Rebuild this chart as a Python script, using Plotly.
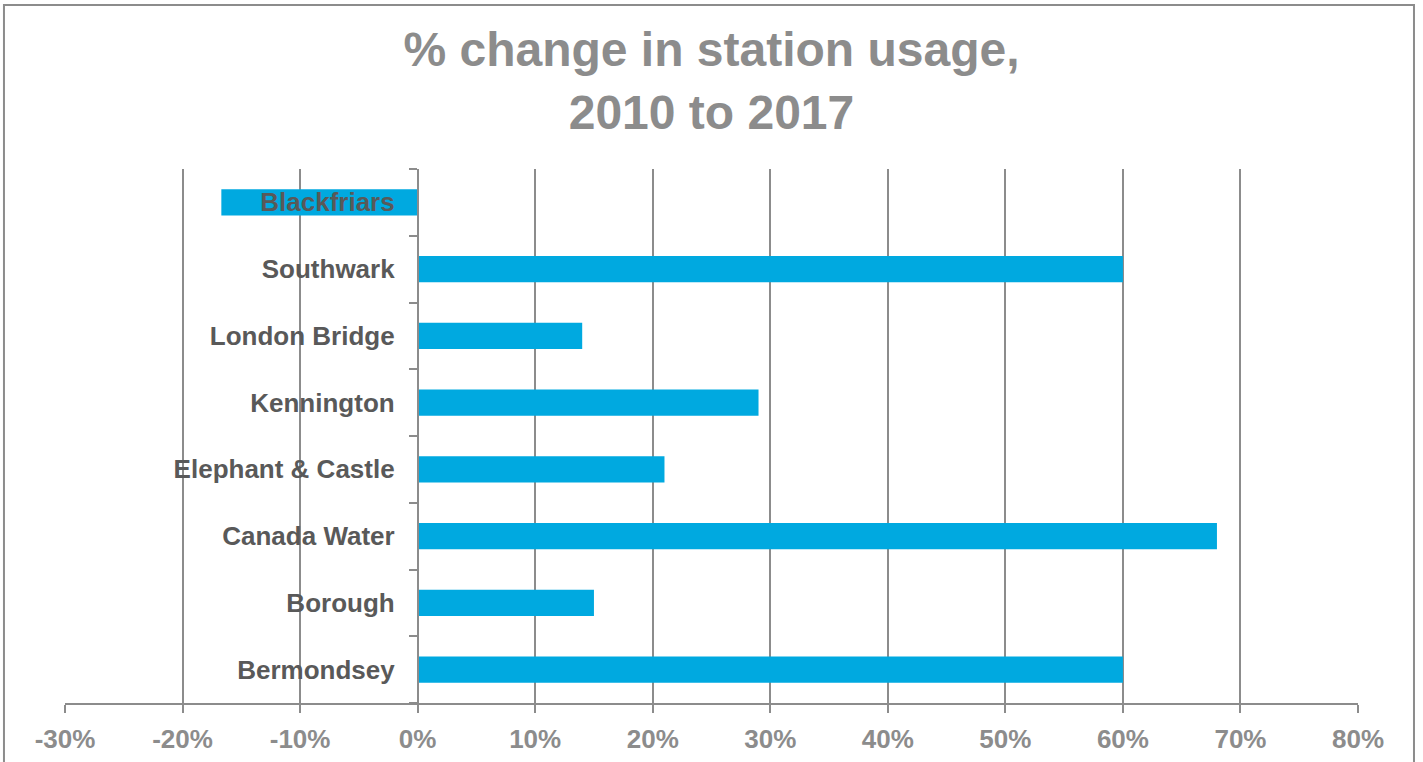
import plotly.graph_objects as go

# stations, listed bottom to top as drawn
stations = ["Bermondsey", "Borough", "Canada Water", "Elephant & Castle",
            "Kennington", "London Bridge", "Southwark", "Blackfriars"]
pct_change = [60, 15, 68, 21, 29, 14, 60, -16.7]

tick_vals = [-30, -20, -10, 0, 10, 20, 30, 40, 50, 60, 70, 80]
tick_labels = ["-30%", "-20%", "-10%", "0%", "10%", "20%", "30%",
               "40%", "50%", "60%", "70%", "80%"]

GREY = "#8c8c8c"
FONT = "Liberation Sans, Arial, sans-serif"

fig = go.Figure(go.Bar(
    x=pct_change,
    y=stations,
    orientation="h",
    marker=dict(color="#00a9e0", line=dict(width=0)),
    hoverinfo="x+y",
))

fig.update_layout(
    width=1423, height=762,
    margin=dict(l=65, r=65, t=169, b=59, autoexpand=False),
    paper_bgcolor="white", plot_bgcolor="white",
    bargap=0.61,
    showlegend=False,
    title=dict(
        text="% change in station usage,<br>2010 to 2017",
        x=0.5, xanchor="center", y=0.913, yanchor="middle",
        font=dict(family=FONT, size=48, color=GREY, weight="bold"),
    ),
    xaxis=dict(
        range=[-30, 80],
        tickvals=tick_vals, ticktext=tick_labels,
        showgrid=True, gridcolor=GREY, gridwidth=1.5,
        zeroline=False,
        showline=True, linecolor=GREY, linewidth=1.5,
        ticks="outside", ticklen=8, tickcolor=GREY, tickwidth=1.5,
        ticklabelstandoff=4,
        tickfont=dict(family=FONT, size=26, color=GREY, weight="bold"),
        automargin=False,
        fixedrange=True,
    ),
    yaxis=dict(
        type="category",
        categoryorder="array", categoryarray=stations,
        anchor="free", position=30 / 110,
        showgrid=False, zeroline=False,
        showline=True, linecolor=GREY, linewidth=1.5,
        ticks="outside", ticklen=8, tickcolor=GREY, tickwidth=1.5,
        tickson="boundaries",
        ticklabelstandoff=17,
        tickfont=dict(family=FONT, size=26, color="#595959", weight="bold"),
        automargin=False,
        fixedrange=True,
    ),
)

# outer frame around the whole chart
fig.add_shape(type="rect", xref="paper", yref="paper",
              x0=-0.0472, x1=1.0433, y0=-0.15, y1=1.307,
              line=dict(color=GREY, width=2), fillcolor="rgba(0,0,0,0)",
              layer="below")

# drop the default 8px page margin so the figure sits at the window corner
fig.write_html("out.html", config={"displayModeBar": False},
               post_script="document.body.style.margin='0';")
